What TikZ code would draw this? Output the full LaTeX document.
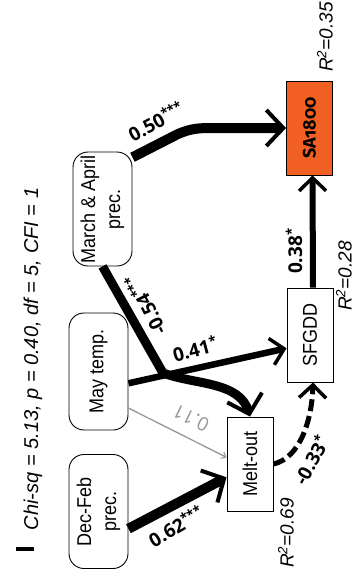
\documentclass[tikz,border=0pt]{standalone}
\usepackage{fontspec}
\setmainfont{Liberation Sans}
\newfontfamily\boxfont[FakeStretch=0.9]{Liberation Sans}
\newfontfamily\labfont{Open Sans}
\newfontfamily\safont[Numbers=OldStyle]{Fira Sans}
\usetikzlibrary{arrows.meta,calc}
\definecolor{saorange}{RGB}{241,96,34}
\definecolor{pathgray}{RGB}{150,150,150}
\begin{document}
\begin{tikzpicture}[x=1pt,y=-1pt,
  box/.style={draw, rotate=90, rounded corners=15pt, line width=0.9pt, align=center,
    font=\boxfont\fontsize{20}{25}\selectfont, inner sep=0pt,
    minimum width=114pt, minimum height=59pt},
  rbox/.style={draw, rotate=90, line width=0.9pt,
    font=\boxfont\fontsize{20}{25}\selectfont, inner sep=0pt,
    minimum width=94pt, minimum height=46pt},
  lab/.style={font=\labfont\bfseries\fontsize{19}{22}\selectfont, inner sep=0pt},
  rlab/.style={font=\itshape\fontsize{19}{22}\selectfont, inner sep=0pt, rotate=90},
  bigarrow/.style={-{Straight Barb[length=17pt,width=36pt,line width=4pt]}},
  midarrow/.style={-{Straight Barb[length=13pt,width=27pt,line width=3.5pt]}},
  smallarrow/.style={-{Straight Barb[length=4pt,width=7pt,line width=1pt]}}
]
\useasboundingbox (0,0) rectangle (355,576);

% caption
\node[font=\itshape\fontsize{20}{24}\selectfont, rotate=90, inner sep=0pt] (cap) at (33,359)
  {Chi-sq = 5.13, p = 0.40, df = 5, CFI = 1};
\coordinate (barA) at (16,549);
\coordinate (barB) at (34,549);
\draw[line width=4pt] (barA) -- (barB);

% nodes
\node[box] (march) at (102.5,209) {March \& April\\prec.};
\node[box, minimum width=117pt] (may) at (98.5,371.5) {May temp.};
\node[box] (dec) at (98.5,511.5) {Dec-Feb\\prec.};
\node[rbox] (melt) at (250,464) {Melt-out};
\node[rbox] (sfgdd) at (310,335) {SFGDD};
\node[rbox, fill=saorange, font=\safont\bfseries\fontsize{18}{22}\selectfont] (sa) at (309.5,128) {SA1800};

% R^2 labels
\node[rlab] (r1) at (325,37) {R\textsuperscript{2}=0.35};
\node[rlab] (r2) at (344,276) {R\textsuperscript{2}=0.28};
\node[rlab] (r3) at (286,533) {R\textsuperscript{2}=0.69};

% edges
\draw[bigarrow, line width=10pt]
  ($(march.south east)!0.05!(march.south west)$) -- (178,134)
  .. controls (192,128) and (200,128) .. (215,128) -- (sa.north);
\draw[midarrow, line width=6pt] ([xshift=3pt]sfgdd.east) -- ([xshift=3pt]sa.west);
\draw[bigarrow, line width=9pt] (march.west) -- (163,373)
  .. controls (195,385) and (240,381) .. (melt.east);
\draw[midarrow, line width=6.5pt]
  ($(may.south east)!0.6!(may.south west)$) -- ($(sfgdd.north east)!0.64!(sfgdd.north west)$);
\draw[smallarrow, pathgray, line width=1.3pt]
  ($(may.south east)!0.81!(may.south west)$) -- ($(melt.north east)!0.43!(melt.north west)$);
\draw[bigarrow, line width=10pt]
  ($(dec.south east)!0.65!(dec.south west)$) -- ($(melt.north east)!0.64!(melt.north west)$);
\draw[midarrow, line width=5pt, dash pattern=on 12pt off 5pt]
  (melt.south) .. controls (300,458) and (312,420) .. ([xshift=3pt]sfgdd.west);

% edge labels
\node[lab, rotate=28] (l050) at (156,121) {0.50\textsuperscript{***}};
\node[lab, rotate=90] (l038) at (294,251) {0.38\textsuperscript{*}};
\node[lab, rotate=117] (l054) at (145,305) {-0.54\textsuperscript{***}};
\node[lab, rotate=15] (l041) at (195,349) {0.41\textsuperscript{*}};
\node[lab, rotate=154, text=pathgray, font=\labfont\fontsize{19}{22}\selectfont] (l011) at (191,418) {0.11};
\node[lab, rotate=30] (l062) at (176,526) {0.62\textsuperscript{***}};
\node[lab, rotate=61] (l033) at (311,460) {-0.33\textsuperscript{*}};
\end{tikzpicture}
\end{document}
